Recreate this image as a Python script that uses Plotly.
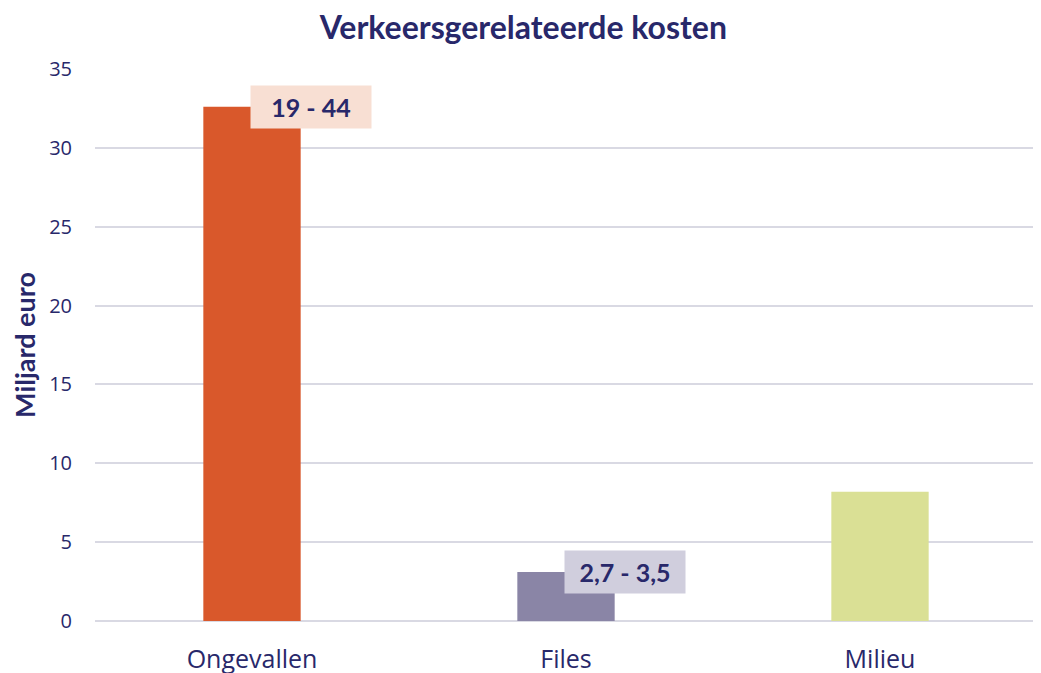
import plotly.graph_objects as go

categories = ["Ongevallen", "Files", "Milieu"]
values = [32.6, 3.1, 8.2]
colors = ["#D9582B", "#8A85A6", "#DAE095"]
range_labels = ["19 - 44", "2,7 - 3,5", None]
label_bg = ["#F8DFD3", "#D0CEDD", None]

navy = "#28286A"

fig = go.Figure()
fig.add_trace(go.Bar(x=categories, y=values, marker=dict(color=colors, line=dict(width=0)),
                     hoverinfo="skip"))

for cat, val, lab, bg in zip(categories, values, range_labels, label_bg):
    if lab is None:
        continue
    fig.add_annotation(x=cat, y=val, xref="x", yref="y", text="<b>" + lab + "</b>",
                       showarrow=False, xanchor="left", yanchor="middle", xshift=-2,
                       bgcolor=bg, width=106, height=28, borderpad=7,
                       font=dict(family="Lato", size=25, color=navy))

fig.update_layout(
    width=1041, height=673,
    margin=dict(l=87, r=12, t=61, b=60),
    paper_bgcolor="white", plot_bgcolor="white",
    bargap=0.69,
    showlegend=False,
    title=dict(text="<b>Verkeersgerelateerde kosten</b>", x=0.495, xanchor="center",
               y=0.971, yanchor="middle",
               font=dict(family="Lato", size=32, color=navy)),
    xaxis=dict(showgrid=False, showline=False, ticks="", automargin=False,
               ticklabelstandoff=21,
               tickfont=dict(family="Open Sans", size=25, color=navy)),
    yaxis=dict(range=[0, 35], dtick=5, showgrid=True, gridcolor="#D9D9E3", gridwidth=2,
               zeroline=True, zerolinecolor="#D9D9E3", zerolinewidth=2,
               showline=False, ticks="", ticklabelstandoff=22, automargin=False,
               tickfont=dict(family="Open Sans", size=20, color=navy),
               title=dict(text="<b>Miljard euro</b>", standoff=12,
                          font=dict(family="Lato", size=27, color=navy))),
)

fig.write_html("out.html")
